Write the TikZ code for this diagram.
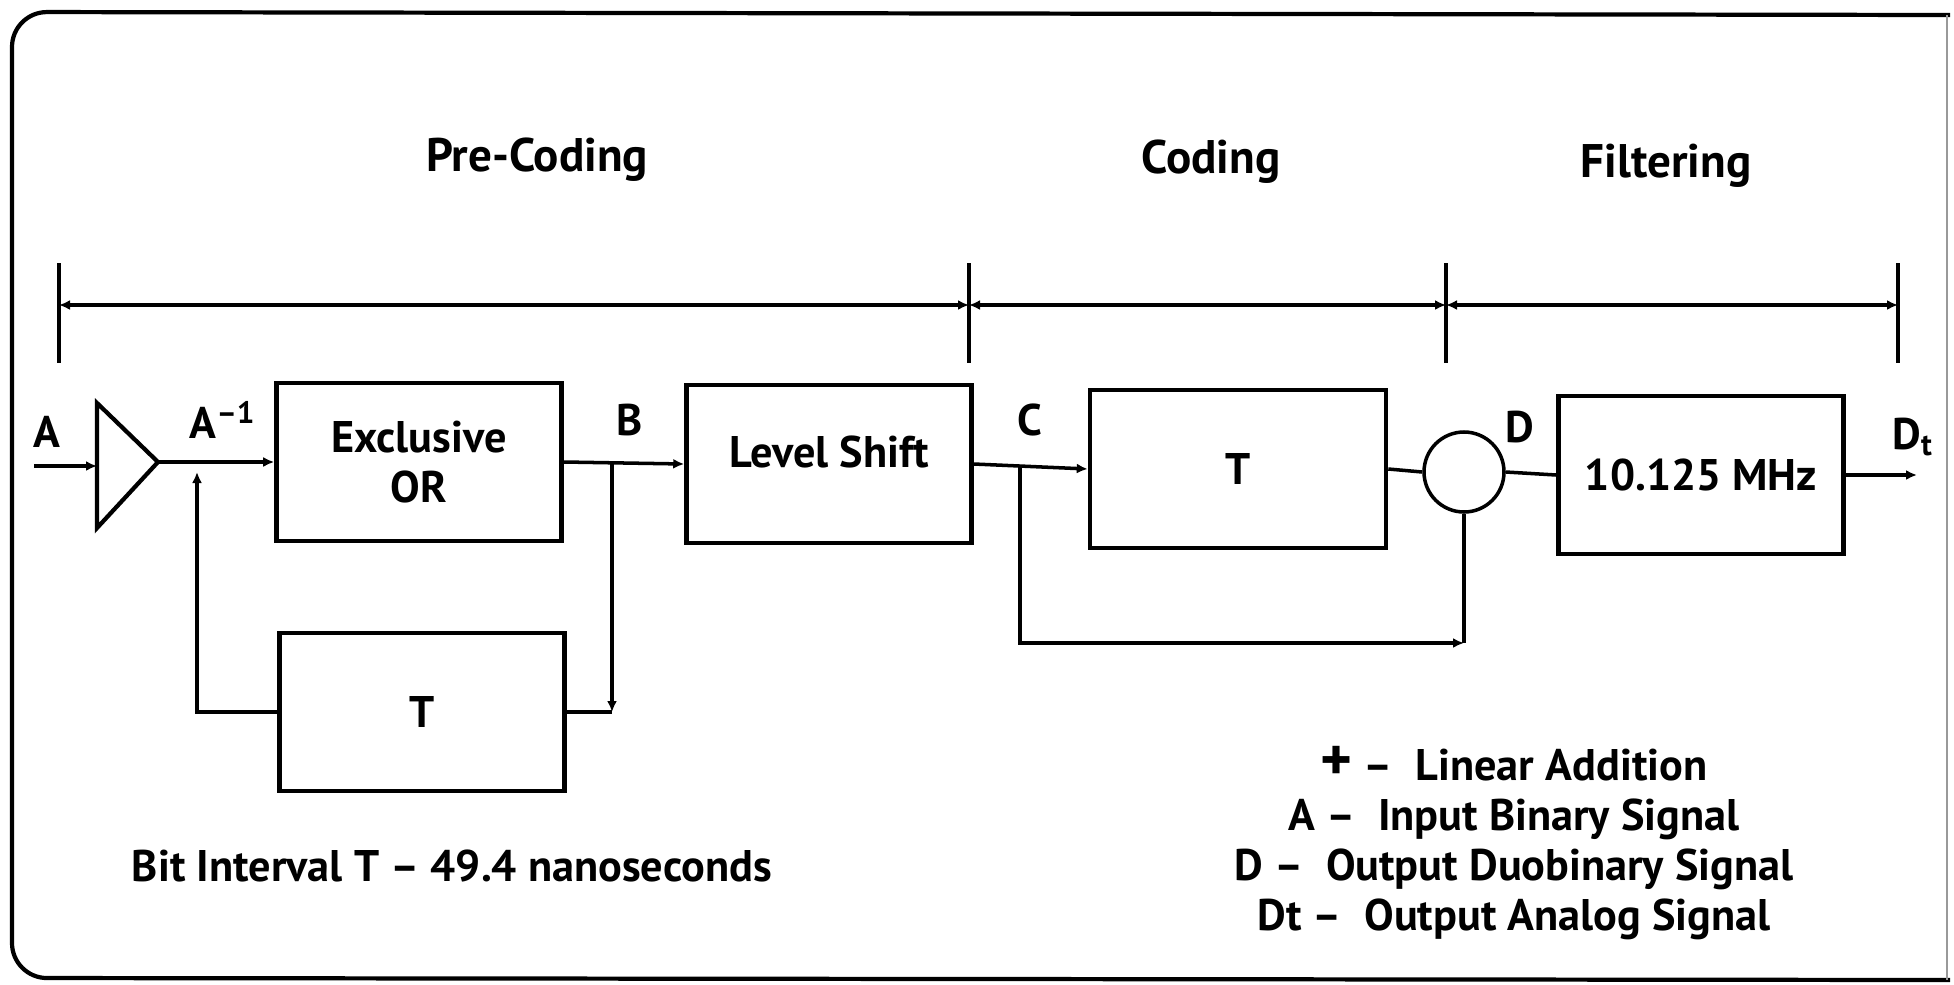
\documentclass[tikz,border=0pt]{standalone}
\usepackage{fontspec}
\setmainfont{PT Sans}
\usetikzlibrary{arrows.meta, calc}

\begin{document}
\begin{tikzpicture}[
  x=1cm, y=-1cm,
  block/.style={draw, line width=1.3pt, minimum width=2.85cm, minimum height=1.58cm, align=center, inner sep=2pt},
  wire/.style={line width=1pt},
  tip/.style={-{Latex[length=1.1mm, width=1mm]}},
  heading/.style={font=\fontsize{13.4}{16}\selectfont\bfseries},
  every node/.style={font=\fontsize{12.6}{14.2}\selectfont\bfseries}
]
  \useasboundingbox (0,0) rectangle (19.54,9.84);

  % frame
  \draw[line width=1.2pt, rounded corners=0.35cm] (19.50,0.15) -- (0.12,0.12) -- (0.12,9.78) -- (19.50,9.80);
  \draw[line width=0.4pt, black!40] (19.47,0.15) -- (19.47,9.80);

  \node[heading] (hpre) at (5.37,1.60) {Pre-Coding};
  \node[heading] (hcod) at (12.11,1.62) {Coding};
  \node[heading] (hfil) at (16.66,1.66) {Filtering};

  % section spans
  \foreach \name/\xx in {s0/0.59, s1/9.69, s2/14.46, s3/18.98} {
    \coordinate (\name) at (\xx,3.05);
    \draw[wire] (\xx,2.63) -- (\xx,3.63);
  }
  \draw[wire, {Latex[length=1.1mm, width=1mm]}-{Latex[length=1.1mm, width=1mm]}] (s0) -- (s1);
  \draw[wire, {Latex[length=1.1mm, width=1mm]}-{Latex[length=1.1mm, width=1mm]}] (s1) -- (s2);
  \draw[wire, {Latex[length=1.1mm, width=1mm]}-{Latex[length=1.1mm, width=1mm]}] (s2) -- (s3);

  \node[block] (xor) at (4.19,4.62) {Exclusive\\OR};
  \node[block] (lvl) at (8.29,4.64) {Level Shift\\[-0.25cm]\mbox{}};
  \node[block, minimum width=2.96cm] (tcod) at (12.38,4.69) {T};
  \node[circle, draw, line width=1pt, minimum size=0.80cm, inner sep=0pt] (sum) at (14.64,4.72) {};
  \node[block] (filt) at (17.01,4.75) {10.125 MHz};
  \node[block] (tpre) at (4.22,7.12) {T};

  % input buffer
  \coordinate (ain) at (0.34,4.66);
  \coordinate (ampin) at (0.97,4.66);
  \coordinate (ampout) at (1.58,4.62);
  \draw[line width=1.2pt] (0.97,4.03) -- (ampout) -- (0.97,5.28) -- cycle;
  \draw[wire, tip] (ain) -- (ampin);
  \draw[wire, tip] (ampout) -- (xor.west);

  % pre-coding loop
  \coordinate (aj) at (1.97,4.62);
  \coordinate (bj) at (6.12,4.62);
  \coordinate (bc) at (bj |- tpre.east);
  \draw[wire, tip] (tpre.west) -| ($(aj)+(0,0.10)$);
  \draw[wire, tip] (bj) -- (bc);
  \draw[wire] (tpre.east) -- (bc);
  \draw[wire, tip] (xor.east) -- (lvl.west);

  % coding
  \coordinate (cj) at (10.20,4.65);
  \coordinate (dc) at (14.64,6.43);
  \draw[wire, tip] (lvl.east) -- (tcod.west);
  \draw[wire] (tcod.east) -- (sum.west);
  \draw[wire, tip] (cj) |- (dc);
  \draw[wire] (sum.south) -- (dc);

  % filtering
  \coordinate (dout) at (19.17,4.75);
  \draw[wire] (sum.east) -- (filt.west);
  \draw[wire, tip] (filt.east) -- (dout);

  \node (la) at (0.47,4.32) {A};
  \node (la1) at (2.23,4.20) {A\textsuperscript{--1}};
  \node (lb) at (6.30,4.20) {B};
  \node (lc) at (10.30,4.20) {C};
  \node (ld) at (15.20,4.27) {D};
  \node (ldt) at (19.13,4.37) {D\textsubscript{t}};

  \node (tbit) at (4.52,8.66) {Bit Interval T -- 49.4 nanoseconds};
  \node[align=center] (key) at (15.14,8.43) {{\LARGE+} --\ \ Linear Addition\\A --\ \ Input Binary Signal\\D --\ \ Output Duobinary Signal\\Dt --\ \ Output Analog Signal};
\end{tikzpicture}
\end{document}
